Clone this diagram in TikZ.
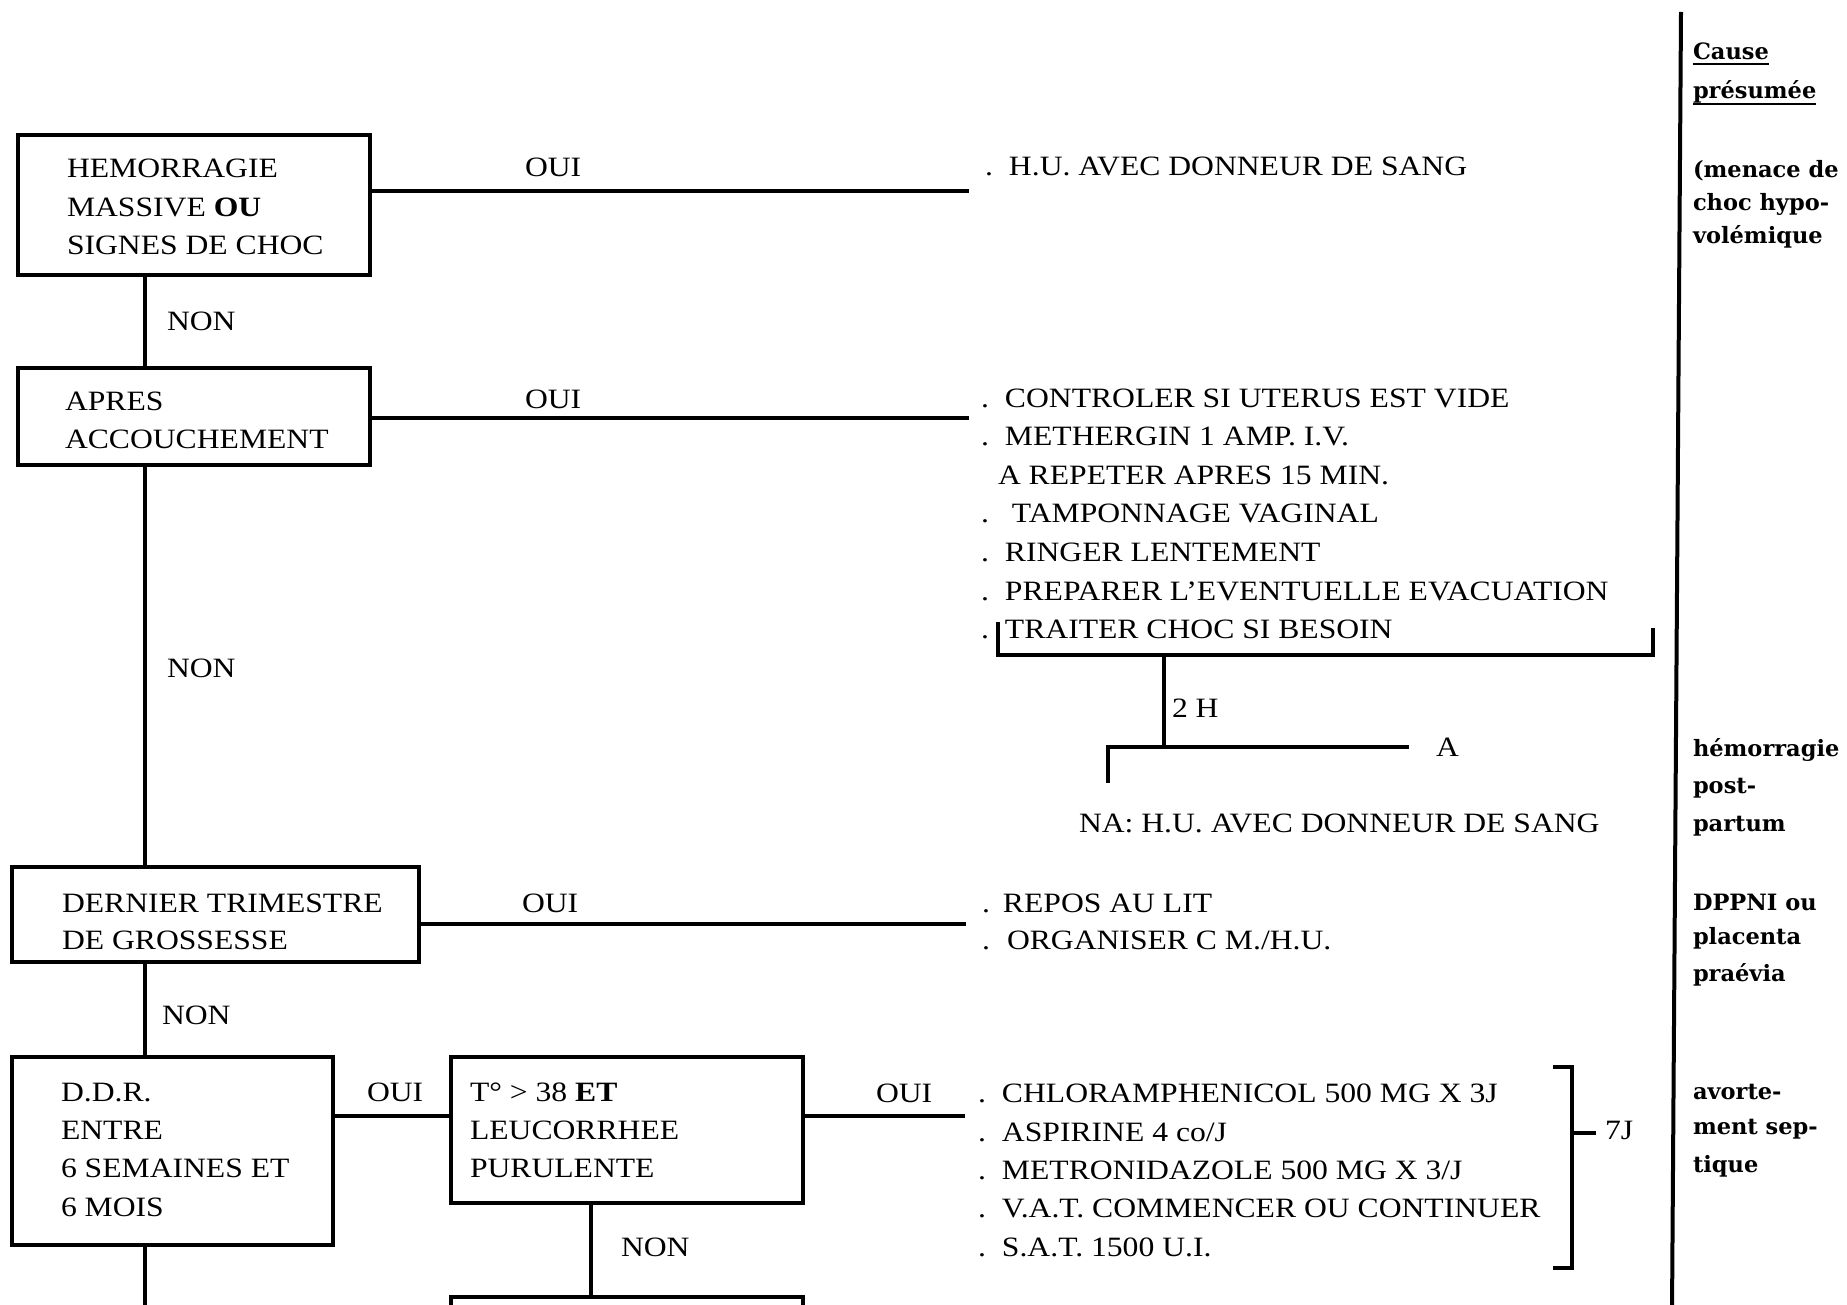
\documentclass[tikz,border=0pt]{standalone}
\usepackage{fontspec}
\setmainfont{Liberation Serif}[FakeStretch=1.13]
\newfontfamily\rcolfont{DejaVu Serif}
\newcommand{\mainsz}{\fontsize{28}{38}\selectfont}
\newcommand{\rsz}{\rcolfont\bfseries\fontsize{22.5}{34}\selectfont}
\newcommand{\itm}[2][24pt]{\makebox[#1][l]{.}#2}
\tikzset{
  box/.style={draw, line width=4pt, inner sep=0pt, outer sep=0pt, anchor=north west},
  ln/.style={line width=3.5pt},
  txt/.style={inner sep=0pt, outer sep=0pt, anchor=base west, font=\mainsz},
  rtxt/.style={inner sep=0pt, outer sep=0pt, anchor=base west, font=\rsz},
}
\begin{document}
\begin{tikzpicture}[x=1pt,y=-1pt]
\path[fill=white] (0,0) rectangle (1847,1305);
\useasboundingbox (0,0) rectangle (1847,1305);

% ---------- boxes ----------
\node[box, minimum width=352pt, minimum height=140pt] (b1) at (18,135) {};
\node[box, minimum width=352pt, minimum height=97pt]  (b2) at (18,368) {};
\node[box, minimum width=407pt, minimum height=95pt]  (b3) at (12,867) {};
\node[box, minimum width=321pt, minimum height=188pt] (b4) at (12,1057) {};
\node[box, minimum width=352pt, minimum height=146pt] (b5) at (451,1057) {};
\node[box, minimum width=352pt, minimum height=100pt] (b6) at (451,1297) {};

% ---------- box texts ----------
\node[txt] (t1a) at (67,178)   {HEMORRAGIE};
\node[txt] (t1b) at (67,216.5) {MASSIVE \textbf{OU}};
\node[txt] (t1c) at (67,255)   {SIGNES DE CHOC};
\node[txt] (t2a) at (65,410)   {APRES};
\node[txt] (t2b) at (65,448.5) {ACCOUCHEMENT};
\node[txt] (t3a) at (62,912)   {DERNIER TRIMESTRE};
\node[txt] (t3b) at (62,949)   {DE GROSSESSE};
\node[txt] (t4a) at (61,1101)  {D.D.R.};
\node[txt] (t4b) at (61,1139)  {ENTRE};
\node[txt] (t4c) at (61,1177.5){6 SEMAINES ET};
\node[txt] (t4d) at (61,1216)  {6 MOIS};
\node[txt] (t5a) at (470,1101) {T° > 38 \textbf{ET}};
\node[txt] (t5b) at (470,1139) {LEUCORRHEE};
\node[txt] (t5c) at (470,1177.5){PURULENTE};

% ---------- OUI / NON labels ----------
\node[txt] (o1) at (525,177)  {OUI};
\node[txt] (o2) at (525,409)  {OUI};
\node[txt] (o3) at (522,912)  {OUI};
\node[txt] (o4) at (367,1101) {OUI};
\node[txt] (o5) at (876,1102) {OUI};
\node[txt] (n1) at (167,331)  {NON};
\node[txt] (n2) at (167,677)  {NON};
\node[txt] (n3) at (162,1024) {NON};
\node[txt] (n4) at (621,1256) {NON};

% ---------- action lists ----------
\node[txt] (r1) at (985,176) {\itm{H.U. AVEC DONNEUR DE SANG}};

\node[txt] (r2a) at (981,407)   {\itm{CONTROLER SI UTERUS EST VIDE}};
\node[txt] (r2b) at (981,445.6) {\itm{METHERGIN 1 AMP. I.V.}};
\node[txt] (r2c) at (998,484.2) {A REPETER APRES 15 MIN.};
\node[txt] (r2d) at (981,522.8) {\itm[31pt]{TAMPONNAGE VAGINAL}};
\node[txt] (r2e) at (981,561.4) {\itm{RINGER LENTEMENT}};
\node[txt] (r2f) at (981,600)   {\itm{PREPARER L’EVENTUELLE EVACUATION}};
\node[txt] (r2g) at (981,638.6) {\itm{TRAITER CHOC SI BESOIN}};

\node[txt] (h2) at (1172,717) {2 H};
\node[txt] (la) at (1436,756) {A};
\node[txt] (na) at (1079,832) {NA: H.U. AVEC DONNEUR DE SANG};

\node[txt] (r3a) at (982,912) {\itm[21pt]{REPOS AU LIT}};
\node[txt] (r3b) at (982,949) {\itm[25pt]{ORGANISER C M./H.U.}};

\node[txt] (r5a) at (978,1102) {\itm{CHLORAMPHENICOL 500 MG X 3J}};
\node[txt] (r5b) at (978,1141) {\itm{ASPIRINE 4 co/J}};
\node[txt] (r5c) at (978,1179) {\itm{METRONIDAZOLE 500 MG X 3/J}};
\node[txt] (r5d) at (978,1217) {\itm{V.A.T. COMMENCER OU CONTINUER}};
\node[txt] (r5e) at (978,1256) {\itm{S.A.T. 1500 U.I.}};
\node[txt] (j7) at (1605,1139) {7J};

% ---------- main vertical connectors ----------
\coordinate (vx) at (145,0);
\coordinate (vend) at (145,1312);
\draw[ln] (vx |- b1.south) -- (vx |- b2.north);
\draw[ln] (vx |- b2.south) -- (vx |- b3.north);
\draw[ln] (vx |- b3.south) -- (vx |- b4.north);
\draw[ln] (vend |- b4.south) -- (vend);

% ---------- OUI connectors ----------
\coordinate (e1) at (969,191);
\coordinate (e2) at (969,418);
\coordinate (e3) at (966,924);
\coordinate (e4) at (965,1116);
\draw[ln] (b1.east |- e1) -- (e1);
\draw[ln] (b2.east |- e2) -- (e2);
\draw[ln] (b3.east |- e3) -- (e3);
\draw[ln] (b4.east |- e4) -- (b5.west |- e4);
\draw[ln] (b5.east |- e4) -- (e4);
\coordinate (vt) at (591,0);
\draw[ln] (vt |- b5.south) -- (vt |- b6.north);

% ---------- bracket under post-partum list ----------
\coordinate (bkLt) at (998,622);
\coordinate (bkL)  at (998,655);
\coordinate (bkR)  at (1653,655);
\coordinate (bkRt) at (1653,628);
\coordinate (bkM)  at (1164,655);
\coordinate (tj)   at (1164,747);
\coordinate (tL)   at (1108,747);
\coordinate (tR)   at (1409,747);
\coordinate (tLd)  at (1108,783);
\draw[ln] (bkLt) -- (bkL) -- (bkR) -- (bkRt);
\draw[ln] (bkM) -- (tj);
\draw[ln] (tLd) -- (tL) -- (tR);

% ---------- 7J bracket ----------
\coordinate (jt)  at (1553,1067);
\coordinate (jtc) at (1572,1067);
\coordinate (jbc) at (1572,1268);
\coordinate (jb)  at (1553,1268);
\coordinate (jm)  at (1572,1133);
\coordinate (jme) at (1596,1133);
\draw[ln] (jt) -- (jtc) -- (jbc) -- (jb);
\draw[ln] (jm) -- (jme);

% ---------- right column ----------
\coordinate (rv1) at (1681,12);
\coordinate (rv2) at (1672,1312);
\draw[line width=4pt] (rv1) -- (rv2);

\node[rtxt] (rc1)  at (1693,60)   {Cause};
\node[rtxt] (rc2)  at (1693,99)   {présumée};
\draw[line width=2pt] ([yshift=-4pt]rc1.base west) -- ([yshift=-4pt]rc1.base east);
\draw[line width=2pt] ([yshift=-5pt]rc2.base west) -- ([yshift=-5pt]rc2.base east);
\node[rtxt] (rc3)  at (1693,178)  {(menace de};
\node[rtxt] (rc4)  at (1693,211)  {choc hypo-};
\node[rtxt] (rc5)  at (1693,244)  {volémique};
\node[rtxt] (rc6)  at (1693,756)  {hémorragie};
\node[rtxt] (rc7)  at (1693,793)  {post-};
\node[rtxt] (rc8)  at (1693,831)  {partum};
\node[rtxt] (rc9)  at (1693,910)  {DPPNI ou};
\node[rtxt] (rc10) at (1693,944)  {placenta};
\node[rtxt] (rc11) at (1693,981)  {praévia};
\node[rtxt] (rc12) at (1693,1099) {avorte-};
\node[rtxt] (rc13) at (1693,1134) {ment sep-};
\node[rtxt] (rc14) at (1693,1172) {tique};
\end{tikzpicture}
\end{document}
